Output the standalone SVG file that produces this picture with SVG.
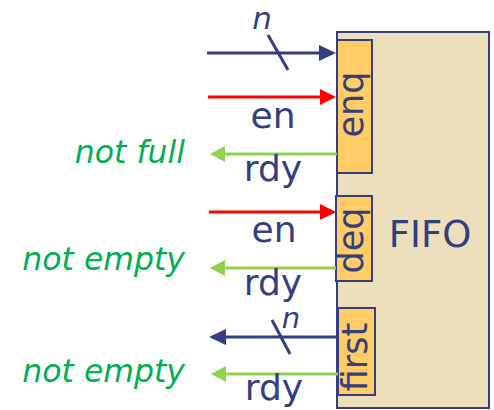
<svg xmlns="http://www.w3.org/2000/svg" width="494" height="410" viewBox="0 0 494 410">
<style>
.box{fill:#EEDFBC;stroke:#333F7F;stroke-width:2}
.port{fill:#FFCC66;stroke:#333F7F;stroke-width:2}
.lbl{font-family:"DejaVu Sans",Verdana,sans-serif;fill:#333F7F}
.big{font-size:36px}
.rot{font-size:35px}
.note{font-family:"DejaVu Sans",Verdana,sans-serif;font-style:italic;font-size:31.5px;fill:#00B050}
.navy{stroke:#333F7F;stroke-width:3;fill:none}
.red{stroke:#FF0000;stroke-width:3;fill:none}
.green{stroke:#92D050;stroke-width:3;fill:none}
</style>
<defs>
<marker id="hNavy" markerUnits="userSpaceOnUse" markerWidth="18" markerHeight="18" refX="9" refY="8" orient="auto"><path d="M0,0 L17,8 L0,16 z" fill="#333F7F"/></marker>
<marker id="hRed" markerUnits="userSpaceOnUse" markerWidth="18" markerHeight="18" refX="9" refY="8" orient="auto"><path d="M0,0 L16,8 L0,16 z" fill="#FF0000"/></marker>
<marker id="hGreen" markerUnits="userSpaceOnUse" markerWidth="18" markerHeight="18" refX="9" refY="8" orient="auto"><path d="M0,0 L15,8 L0,16 z" fill="#92D050"/></marker>
</defs>
<g id="fifo">
<rect class="box" x="337" y="32" width="152" height="376"/>
<text class="lbl" x="430" y="247" font-size="37" text-anchor="middle">FIFO</text>
</g>
<g id="enq">
<rect class="port" x="337" y="40" width="35" height="133"/>
<text class="lbl rot" transform="translate(363,104.5) rotate(-90)" text-anchor="middle">enq</text>
</g>
<g id="deq">
<rect class="port" x="336" y="196" width="36" height="85"/>
<text class="lbl rot" transform="translate(363,240.5) rotate(-90)" text-anchor="middle">deq</text>
</g>
<g id="first">
<rect class="port" x="338" y="308" width="37" height="87"/>
<text class="lbl rot" transform="translate(367,357) rotate(-90)" text-anchor="middle">first</text>
</g>
<g id="connectors">
<line class="navy" x1="207" y1="53" x2="328" y2="53" marker-end="url(#hNavy)"/>
<line class="navy" x1="268" y1="35" x2="288" y2="70"/>
<text class="lbl" x="262" y="29" font-size="31" font-style="italic" text-anchor="middle">n</text>
<line class="red" x1="208" y1="97" x2="329" y2="97" marker-end="url(#hRed)"/>
<text class="lbl big" x="273" y="128" text-anchor="middle">en</text>
<line class="green" x1="337" y1="154" x2="216" y2="154" marker-end="url(#hGreen)"/>
<text class="lbl big" x="273" y="181" text-anchor="middle">rdy</text>
<text class="note" x="185" y="163" text-anchor="end">not full</text>
<line class="red" x1="209" y1="212" x2="329" y2="212" marker-end="url(#hRed)"/>
<text class="lbl big" x="274" y="242" text-anchor="middle">en</text>
<line class="green" x1="336" y1="268" x2="216" y2="268" marker-end="url(#hGreen)"/>
<text class="lbl big" x="273" y="295" text-anchor="middle">rdy</text>
<text class="note" x="185" y="270" text-anchor="end">not empty</text>
<line class="navy" x1="338" y1="337" x2="217" y2="337" marker-end="url(#hNavy)"/>
<line class="navy" x1="272" y1="320" x2="290" y2="354"/>
<text class="lbl" x="291" y="328" font-size="29" font-style="italic" text-anchor="middle">n</text>
<line class="green" x1="338" y1="374" x2="217" y2="374" marker-end="url(#hGreen)"/>
<text class="lbl big" x="274" y="400" text-anchor="middle">rdy</text>
<text class="note" x="185" y="382" text-anchor="end">not empty</text>
</g>
</svg>
